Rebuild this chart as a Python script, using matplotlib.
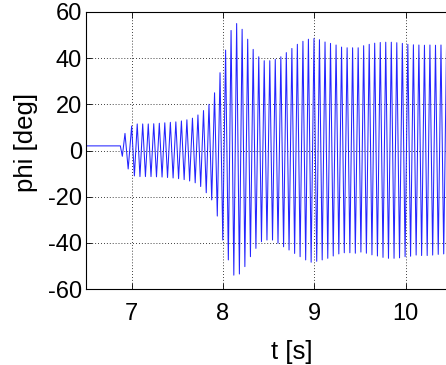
import numpy as np
import matplotlib
matplotlib.use("Agg")
import matplotlib.pyplot as plt

plt.rcParams["font.family"] = ["Liberation Sans", "DejaVu Sans"]
plt.rcParams["axes.unicode_minus"] = False

# Roll angle record: quiet lead-in, then oscillation extrema
onset_t = [6.5, 6.876, 6.898, 6.927, 6.962]
onset_v = [2.0, 2.0, -2.5, 7.4, -8.0]

peak_t = [7.000, 7.061, 7.121, 7.182, 7.242, 7.303, 7.363, 7.424, 7.484, 7.545,
          7.605, 7.666, 7.726, 7.787, 7.847, 7.908, 7.968, 8.029, 8.089, 8.150,
          8.210, 8.271, 8.331, 8.392, 8.452, 8.513, 8.573, 8.634, 8.694, 8.755,
          8.815, 8.876, 8.936, 8.997, 9.057, 9.118, 9.178, 9.239, 9.299, 9.360,
          9.420, 9.481, 9.541, 9.602, 9.662, 9.723, 9.783, 9.844, 9.904, 9.965,
          10.025, 10.086, 10.146, 10.207, 10.267, 10.328, 10.388, 10.449]
peak_v = [10.6, 11.5, 11.5, 11.5, 11.6, 11.8, 12.0, 12.2, 12.4, 12.8,
          13.3, 14.0, 15.4, 17.3, 20.0, 25.0, 33.7, 43.5, 52.0, 55.0,
          52.5, 48.2, 43.8, 40.6, 38.9, 38.9, 39.5, 40.6, 42.4, 44.2,
          46.0, 47.3, 48.2, 48.5, 48.0, 47.0, 46.4, 45.7, 44.8, 44.5,
          44.5, 44.5, 45.4, 46.0, 46.5, 46.8, 46.9, 46.9, 46.7, 46.4,
          46.0, 45.8, 45.7, 45.6, 45.7, 45.6, 45.7, 45.6]

trough_t = [7.030, 7.091, 7.151, 7.212, 7.272, 7.333, 7.393, 7.454, 7.514, 7.575,
            7.635, 7.696, 7.756, 7.817, 7.877, 7.938, 7.998, 8.059, 8.119, 8.180,
            8.240, 8.301, 8.361, 8.422, 8.482, 8.543, 8.603, 8.664, 8.724, 8.785,
            8.845, 8.906, 8.966, 9.027, 9.087, 9.148, 9.208, 9.269, 9.329, 9.390,
            9.450, 9.511, 9.571, 9.632, 9.692, 9.753, 9.813, 9.874, 9.934, 9.995,
            10.055, 10.116, 10.176, 10.237, 10.297, 10.358, 10.418, 10.479]
trough_v = [-11.0, -11.3, -11.3, -11.3, -11.4, -11.5, -11.7, -11.9, -12.2, -12.6,
            -13.2, -14.0, -15.6, -18.3, -21.4, -28.4, -38.8, -47.4, -54.0, -53.5,
            -50.3, -46.0, -42.4, -39.5, -38.8, -38.8, -40.2, -41.7, -43.1, -44.6,
            -46.0, -47.4, -48.4, -48.0, -47.4, -46.7, -45.7, -44.8, -44.3, -44.3,
            -44.5, -44.0, -44.5, -45.2, -45.7, -46.3, -46.7, -46.7, -46.5, -46.0,
            -45.8, -45.3, -45.5, -45.5, -45.3, -45.0, -44.8, -44.8]

x_ticks = [7, 8, 9, 10]
y_ticks = [-60, -40, -20, 0, 20, 40, 60]

# Interleave peaks and troughs into one time series
osc_t = np.column_stack([peak_t, trough_t]).ravel()
osc_v = np.column_stack([peak_v, trough_v]).ravel()
t = np.concatenate([onset_t, osc_t])
phi = np.concatenate([onset_v, osc_v])

W, H = 446, 365
fig = plt.figure(figsize=(W / 100, H / 100), dpi=100)
left, top, bottom = 86, 12, 289
px_per_s = 91.3
xmin, xmax = 6.5, 11.0
ax_w = (xmax - xmin) * px_per_s
ax = fig.add_axes([left / W, (H - bottom) / H, ax_w / W, (bottom - top) / H])

ax.plot(t, phi, color="#2424ff", lw=0.75)

ax.set_xlim(xmin, xmax)
ax.set_ylim(-60, 60)
ax.set_xticks(x_ticks)
ax.set_yticks(y_ticks)
ax.grid(True, color="black", linestyle=(0, (1, 2.5)), linewidth=0.6)
ax.tick_params(direction="in", length=4, width=0.6, labelsize=17,
               top=True, right=True)
ax.tick_params(axis="x", pad=10)
ax.tick_params(axis="y", pad=3)
for s in ax.spines.values():
    s.set_linewidth(0.8)
    s.set_color("black")

ax.set_xlabel("t [s]", fontsize=18.5, labelpad=11)
ax.set_ylabel("phi [deg]", fontsize=18.5)
ax.yaxis.set_label_coords((38 - left) / ax_w, 0.53)

fig.savefig("out.png", dpi=100)
